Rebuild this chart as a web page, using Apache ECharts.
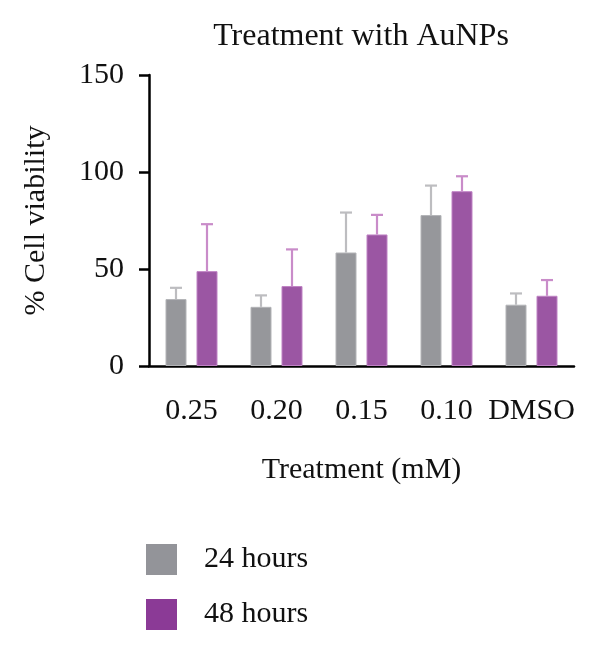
<!DOCTYPE html>
<html>
<head>
<meta charset="utf-8">
<script src="https://cdn.jsdelivr.net/npm/echarts@6/dist/echarts.min.js"></script>
<style>
  html, body { margin: 0; padding: 0; background: #fff; }
  #main { width: 600px; height: 649px; }
</style>
</head>
<body>
<div id="main"></div>
<script>
// data
var categories = ['0.25', '0.20', '0.15', '0.10', 'DMSO'];
var mean24 = [34.5, 30.5, 58.5, 77.8, 31.6];
var sd24 = [5.8, 5.9, 20.6, 15.2, 5.8];
var mean48 = [48.9, 41.2, 67.8, 90.1, 36.2];
var sd48 = [24.2, 18.9, 10.1, 7.7, 8.1];
var yTicks = [0, 50, 100, 150];

var font = 'Liberation Serif';
var barW = 21, gapPx = 10;

// upper-only error bar with a cap
function errorBar(means, sds, side, color) {
  return {
    type: 'custom',
    z: 1,
    silent: true,
    data: means.map(function (m, i) { return [i, m, m + sds[i]]; }),
    renderItem: function (params, api) {
      var off = side * (barW + gapPx) / 2;
      var lo = api.coord([api.value(0), api.value(1)]);
      var hi = api.coord([api.value(0), api.value(2)]);
      var x = lo[0] + off;
      var style = { stroke: color, lineWidth: 2.2 };
      return {
        type: 'group',
        children: [
          { type: 'line', shape: { x1: x, y1: lo[1], x2: x, y2: hi[1] }, style: style },
          { type: 'line', shape: { x1: x - 6, y1: hi[1], x2: x + 6, y2: hi[1] }, style: style }
        ]
      };
    }
  };
}

var chart = echarts.init(document.getElementById('main'));
chart.setOption({
  backgroundColor: '#fff',
  animation: false,
  title: {
    text: 'Treatment with AuNPs',
    left: 356,
    textAlign: 'center',
    top: 16,
    textStyle: { fontFamily: font, fontSize: 32, fontWeight: 'normal', color: '#111' }
  },
  legend: {
    orient: 'vertical',
    left: 141,
    top: 539,
    icon: 'rect',
    itemWidth: 31,
    itemHeight: 31,
    itemGap: 24,
    selectedMode: false,
    textStyle: { fontFamily: font, fontSize: 30, color: '#111', padding: [0, 0, 0, 22] },
    data: [
      { name: '24 hours', itemStyle: { color: '#939499', borderWidth: 0 } },
      { name: '48 hours', itemStyle: { color: '#8b3a96', borderWidth: 0 } }
    ]
  },
  grid: { left: 149, right: 26, top: 75, height: 291 },
  xAxis: {
    type: 'category',
    data: categories,
    name: 'Treatment (mM)',
    nameLocation: 'middle',
    nameGap: 89,
    nameTextStyle: { fontFamily: font, fontSize: 30, color: '#111' },
    axisLine: { lineStyle: { color: '#000', width: 2.5 } },
    axisTick: { alignWithLabel: true, interval: 0, length: 12, lineStyle: { color: '#000', width: 2.5 } },
    axisLabel: { interval: 0, fontFamily: font, fontSize: 30, color: '#111', margin: 30 }
  },
  yAxis: {
    type: 'value',
    min: 0,
    max: 150,
    interval: 50,
    name: '% Cell viability',
    nameLocation: 'middle',
    nameGap: 98,
    nameTextStyle: { fontFamily: font, fontSize: 30, color: '#111' },
    axisLine: { show: true, lineStyle: { color: '#000', width: 2.5 } },
    axisTick: { show: true, length: 10, lineStyle: { color: '#000', width: 2.5 } },
    splitLine: { show: false },
    axisLabel: {
      fontFamily: font, fontSize: 30, color: '#111', margin: 25,
      formatter: function (v) { return yTicks.indexOf(v) >= 0 ? String(v) : ''; }
    }
  },
  series: [
    {
      name: '24 hours',
      type: 'bar',
      data: mean24,
      barWidth: barW,
      barGap: (gapPx / barW * 100) + '%',
      z: 2,
      itemStyle: { color: '#96979b', borderColor: '#b3b4b7', borderWidth: 1 }
    },
    {
      name: '48 hours',
      type: 'bar',
      data: mean48,
      barWidth: barW,
      z: 2,
      itemStyle: { color: '#9b56a3', borderColor: '#bf82c4', borderWidth: 1 }
    },
    errorBar(mean24, sd24, -1, '#bdbdc0'),
    errorBar(mean48, sd48, 1, '#c98cc9')
  ]
});
</script>
</body>
</html>
